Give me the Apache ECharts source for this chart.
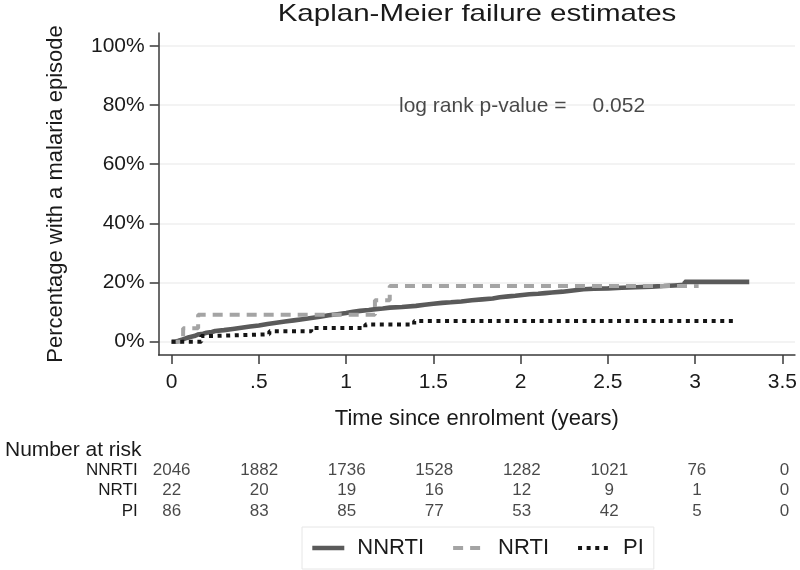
<!DOCTYPE html>
<html>
<head>
<meta charset="utf-8">
<script src="https://cdn.jsdelivr.net/npm/echarts@6/dist/echarts.min.js"></script>
<style>
html,body{margin:0;padding:0;background:#fff;}
#chart{width:800px;height:570px;}
</style>
</head>
<body>
<div id="chart"></div>
<script>
// ---- data ----
var xTickValues = [0, 0.5, 1, 1.5, 2, 2.5, 3, 3.5];
var xTickLabels = ['0', '.5', '1', '1.5', '2', '2.5', '3', '3.5'];
var yTickValues = [0, 20, 40, 60, 80, 100];

var nnrtiT = [0, 0.02, 0.04, 0.06, 0.08, 0.1, 0.13, 0.15, 0.18, 0.2, 0.23, 0.25, 0.3, 0.35, 0.4, 0.45, 0.5, 0.55, 0.6, 0.65, 0.7, 0.75, 0.8, 0.85, 0.9, 0.95, 1.0, 1.04, 1.08, 1.13, 1.17, 1.21, 1.25, 1.32, 1.4, 1.45, 1.5, 1.55, 1.6, 1.66, 1.72, 1.78, 1.84, 1.88, 1.93, 1.97, 2.01, 2.05, 2.1, 2.14, 2.18, 2.24, 2.3, 2.36, 2.42, 2.5, 2.58, 2.66, 2.75, 2.82, 2.88, 2.94, 3.31];
var nnrtiF = [0, 0.3, 0.7, 1.1, 1.5, 1.9, 2.4, 2.7, 3.0, 3.3, 3.6, 3.9, 4.3, 4.7, 5.1, 5.5, 6.0, 6.4, 6.8, 7.2, 7.6, 8.0, 8.4, 8.9, 9.3, 9.7, 10.1, 10.4, 10.7, 11.0, 11.2, 11.5, 11.7, 12.1, 12.5, 12.8, 13.1, 13.3, 13.6, 14.0, 14.3, 14.6, 15.0, 15.3, 15.5, 15.8, 16.0, 16.2, 16.4, 16.6, 16.9, 17.3, 17.7, 17.9, 18.0, 18.2, 18.4, 18.6, 18.8, 19.0, 19.2, 20.2, 20.2];

var nrtiT = [0, 0.066, 0.152, 1.165, 1.25, 3.02];
var nrtiF = [0, 4.5, 9.1, 14.0, 18.8, 18.8];

var piT = [0, 0.17, 0.2, 0.56, 0.8, 1.11, 1.39, 3.22];
var piF = [0, 1.9, 2.5, 3.5, 4.6, 5.8, 7.0, 7.0];

var groups = ['NNRTI', 'NRTI', 'PI'];
var riskTimes = [0, 0.5, 1, 1.5, 2, 2.5, 3, 3.5];
var nnrtiRisk = [2046, 1882, 1736, 1528, 1282, 1021, 76, 0];
var nrtiRisk = [22, 20, 19, 16, 12, 9, 1, 0];
var piRisk = [86, 83, 85, 77, 53, 42, 5, 0];

var titleText = 'Kaplan-Meier failure estimates';
var annotTexts = ['log rank p-value =', '0.052'];
var annotX = [1.3, 2.409];
var annotY = [79.4, 79.4];

// ---- build ----
function pairs(t, f) { return t.map(function (v, i) { return [v, f[i]]; }); }
var riskRows = [nnrtiRisk, nrtiRisk, piRisk];
var riskData = [];
riskRows.forEach(function (row, r) {
  row.forEach(function (v, i) { riskData.push([riskTimes[i], r, v]); });
});
var annotData = annotTexts.map(function (t, i) { return [annotX[i], annotY[i], t]; });

var FONT = "'Liberation Sans', Arial, sans-serif";
var TXT = '#1a1a1a';
var AX = '#3a3a3a';
var C_NN = '#5a5a5a', C_NR = '#a4a4a4', C_PI = '#151515';
var LS = {
  NNRTI: { color: C_NN, width: 4.6, type: 'solid', cap: 'butt' },
  NRTI: { color: C_NR, width: 4, type: [10, 7], cap: 'butt' },
  PI: { color: C_PI, width: 4, type: [4, 4.6], cap: 'butt' }
};

var chart = echarts.init(document.getElementById('chart'), null, { renderer: 'canvas' });
chart.setOption({
  animation: false,
  backgroundColor: '#fff',
  textStyle: { fontFamily: FONT, color: TXT },
  title: [{
    text: 'Number at risk', left: 0, top: 435,
    textStyle: { fontSize: 21, fontWeight: 'normal', color: TXT, fontFamily: FONT }
  }],
  graphic: [{
    type: 'text', x: 477, y: 14, scaleX: 1.23, silent: true,
    style: { text: titleText, font: '24px ' + FONT, fill: TXT, align: 'center', verticalAlign: 'middle' }
  }],
  legend: {
    data: groups.map(function (g) {
      return { name: g, itemStyle: { opacity: 0 }, lineStyle: LS[g] };
    }),
    left: 302, top: 527,
    padding: [10, 10, 10, 8], itemWidth: 32, itemHeight: 20, itemGap: 27,
    borderColor: '#e6e6e6', borderWidth: 1,
    textStyle: { fontSize: 22, color: TXT, fontFamily: FONT, padding: [0, 0, 0, 8] },
    selectedMode: false
  },
  grid: [
    { left: 158.7, right: 3, top: 33, bottom: 215, containLabel: false },
    { left: 158.7, right: 3, top: 459.6, height: 62.4, containLabel: false }
  ],
  xAxis: [{
    type: 'value', gridIndex: 0, min: -0.074, max: 3.572,
    axisLine: { show: true, onZero: false, lineStyle: { color: AX, width: 1.5 } },
    axisTick: { show: true, length: 9, customValues: xTickValues, lineStyle: { color: AX, width: 1.5 } },
    axisLabel: {
      customValues: xTickValues, margin: 17, fontSize: 21, color: TXT, fontFamily: FONT,
      formatter: function (v) { var i = xTickValues.indexOf(v); return i >= 0 ? xTickLabels[i] : ''; }
    },
    splitLine: { show: false },
    name: 'Time since enrolment (years)', nameLocation: 'middle', nameGap: 53,
    nameTextStyle: { fontSize: 22, color: TXT, fontFamily: FONT }
  }, {
    type: 'value', gridIndex: 1, min: -0.074, max: 3.572, show: false
  }],
  yAxis: [{
    type: 'value', gridIndex: 0, min: -4.5, max: 104.3,
    axisLine: { show: true, onZero: false, lineStyle: { color: AX, width: 1.5 } },
    axisTick: { show: true, length: 9, customValues: yTickValues, lineStyle: { color: AX, width: 1.5 } },
    axisLabel: {
      customValues: yTickValues, margin: 14, fontSize: 21, color: TXT, fontFamily: FONT,
      formatter: function (v) { return v + '%'; }
    },
    splitLine: { show: true, lineStyle: { color: '#efefef', width: 1.5 } },
    name: 'Percentage with a malaria episode', nameLocation: 'middle', nameGap: 92,
    nameTextStyle: { fontSize: 22, color: TXT, fontFamily: FONT }
  }, {
    type: 'category', gridIndex: 1, data: groups, inverse: true,
    axisLine: { show: false }, axisTick: { show: false }, splitLine: { show: false },
    axisLabel: { interval: 0, margin: 21, fontSize: 17, color: TXT, fontFamily: FONT }
  }],
  series: [{
    name: 'NNRTI', type: 'line', step: 'end', data: pairs(nnrtiT, nnrtiF),
    symbol: 'none', showSymbol: false, z: 3,
    itemStyle: { color: C_NN }, lineStyle: LS.NNRTI
  }, {
    name: 'NRTI', type: 'line', step: 'end', data: pairs(nrtiT, nrtiF),
    symbol: 'none', showSymbol: false, z: 4,
    itemStyle: { color: C_NR }, lineStyle: LS.NRTI
  }, {
    name: 'PI', type: 'line', step: 'end', data: pairs(piT, piF),
    symbol: 'none', showSymbol: false, z: 5,
    itemStyle: { color: C_PI }, lineStyle: LS.PI
  }, {
    name: 'annot', type: 'scatter', data: annotData, symbolSize: 1,
    itemStyle: { color: 'rgba(0,0,0,0)' }, silent: true,
    label: {
      show: true, position: 'right', distance: 0, fontSize: 21, color: TXT, fontFamily: FONT,
      formatter: function (p) { return p.value[2]; }
    }
  }, {
    name: 'risk', type: 'scatter', xAxisIndex: 1, yAxisIndex: 1, data: riskData, symbolSize: 1,
    itemStyle: { color: 'rgba(0,0,0,0)' }, silent: true,
    label: {
      show: true, position: 'inside', fontSize: 17, color: TXT, fontFamily: FONT,
      formatter: function (p) { return String(p.value[2]); }
    }
  }]
});
</script>
</body>
</html>
